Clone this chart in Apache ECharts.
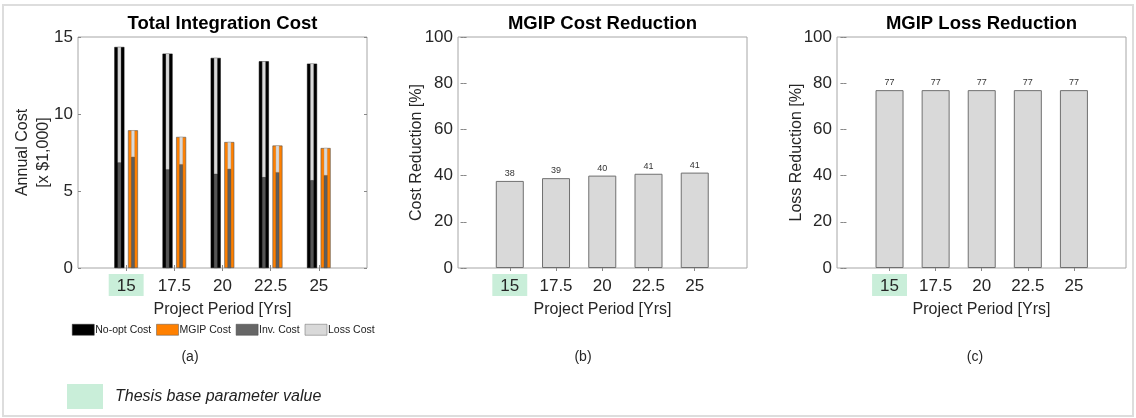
<!DOCTYPE html>
<html>
<head>
<meta charset="utf-8">
<style>
  html, body { margin: 0; padding: 0; background: #ffffff; }
  #chart { width: 1136px; height: 418px; }
</style>
<script src="https://cdn.jsdelivr.net/npm/echarts@6/dist/echarts.min.js"></script>
</head>
<body>
<div id="chart"></div>
<script>
// Project periods (years) shared by all three panels
const categories = ['15', '17.5', '20', '22.5', '25'];
const baseIndex = 0; // thesis base parameter value (15 yrs)

// Annual cost, x $1,000
const noOptCost = [14.35, 13.92, 13.64, 13.42, 13.27];
const mgipCost  = [8.94, 8.51, 8.18, 7.95, 7.79];
const noOptInv  = [6.84, 6.39, 6.10, 5.89, 5.69];
const noOptLoss = [7.51, 7.53, 7.54, 7.53, 7.58];
const mgipInv   = [7.21, 6.73, 6.43, 6.21, 6.02];
const mgipLoss  = [1.73, 1.78, 1.75, 1.74, 1.77];

// Reductions achieved by MGIP, percent
const costReduction = [37.7, 38.9, 40.0, 40.8, 41.3];
const lossReduction = [77.0, 77.0, 77.0, 77.0, 77.0];

const FONT = '"Liberation Sans", Arial, Helvetica, sans-serif';
const TXT = '#262626';
const BOX = '#a6a6a6';
const TICK = '#888888';
const HILITE = '#c9eed9';

// category positions 1..5 on a padded axis (one empty slot each side)
const pairs = vals => vals.map((v, i) => [i + 1, v]);
const paddedCats = [''].concat(categories, ['']);

const grids = [
  { left: 78,  top: 37, width: 289, height: 231 },
  { left: 458, top: 37, width: 289, height: 231 },
  { left: 837, top: 37, width: 289, height: 231 }
];
const xRanges = [null, [-0.12, 6.13], [-0.14, 6.13]];

// every period label sits in the same padded box; the base value gets a tint
const wrapLabel = (text, i) => (i === baseIndex ? '{hl|' : '{n|') + text + '}';
function catLabel(v) {
  const i = Math.round(v) - 1;
  return categories[i] === undefined ? '' : wrapLabel(categories[i], i);
}
const boxPad = [4, 8, 1, 8];
const labelStyle = {
  fontFamily: FONT, fontSize: 17, color: TXT, margin: 6,
  rich: {
    hl: { backgroundColor: HILITE, padding: boxPad, fontFamily: FONT, fontSize: 17, color: TXT },
    n:  { padding: boxPad, fontFamily: FONT, fontSize: 17, color: TXT }
  }
};
const xName = {
  name: 'Project Period [Yrs]', nameLocation: 'middle', nameGap: 34, nameMoveOverlap: false,
  nameTextStyle: { fontFamily: FONT, fontSize: 16, color: TXT }
};
const onTicks = i => i >= 1 && i <= categories.length;

// panel (a): padded category axes so the cost breakdown can be stacked
function catX(top) {
  return Object.assign({
    type: 'category', gridIndex: 0, data: paddedCats, boundaryGap: false,
    position: top ? 'top' : 'bottom',
    splitLine: { show: false }, axisLine: { show: false },
    axisTick: { show: true, inside: true, length: 3, interval: onTicks, lineStyle: { color: TICK } },
    axisLabel: top ? { show: false } : Object.assign({ interval: 0,
      formatter: (val, idx) => val === '' ? '' : wrapLabel(val, idx - 1) }, labelStyle)
  }, top ? {} : xName);
}
// panels (b), (c): value axes with ticks at the five periods
function valX(g, top) {
  return Object.assign({
    type: 'value', gridIndex: g, min: xRanges[g][0], max: xRanges[g][1],
    position: top ? 'top' : 'bottom',
    splitLine: { show: false }, axisLine: { show: false },
    axisTick: { show: true, inside: true, length: 3, customValues: [1, 2, 3, 4, 5],
                lineStyle: { color: TICK } },
    axisLabel: top ? { show: false } :
      Object.assign({ customValues: [1, 2, 3, 4, 5], formatter: catLabel }, labelStyle)
  }, top ? {} : xName);
}
function leftY(g, max, interval, name, gap) {
  return {
    type: 'value', gridIndex: g, min: 0, max: max, interval: interval,
    splitLine: { show: false }, axisLine: { show: false },
    axisTick: { show: true, inside: true, length: 3, lineStyle: { color: TICK } },
    axisLabel: { fontFamily: FONT, fontSize: 17, color: TXT, margin: 5 },
    name: name, nameLocation: 'middle', nameGap: gap, nameRotate: 90, nameMoveOverlap: false,
    nameTextStyle: { fontFamily: FONT, fontSize: 16, color: TXT, lineHeight: 21 }
  };
}
function rightY(g, max, interval) {
  return {
    type: 'value', gridIndex: g, position: 'right', min: 0, max: max, interval: interval,
    splitLine: { show: false }, axisLine: { show: false },
    axisTick: { show: true, inside: true, length: 3, lineStyle: { color: TICK } },
    axisLabel: { show: false }
  };
}

function titleAt(g, text) {
  return {
    text: text, left: grids[g].left + grids[g].width / 2, top: 14, textAlign: 'center', padding: 0,
    textStyle: { fontFamily: FONT, fontSize: 18.5, fontWeight: 'bold', color: '#000' }
  };
}

const reductionLabel = {
  show: true, position: 'top', distance: 3,
  fontFamily: FONT, fontSize: 9, color: '#333',
  formatter: p => Math.round(p.value[1])
};
const greyBar = { color: '#d9d9d9', borderColor: '#707070', borderWidth: 1 };

const option = {
  animation: false,
  backgroundColor: '#ffffff',
  title: [
    titleAt(0, 'Total Integration Cost'),
    titleAt(1, 'MGIP Cost Reduction'),
    titleAt(2, 'MGIP Loss Reduction')
  ],
  grid: grids.map(g => Object.assign({ show: true, borderColor: BOX, borderWidth: 1,
                                        backgroundColor: 'transparent' }, g)),
  xAxis: [catX(false), catX(true), valX(1, false), valX(1, true), valX(2, false), valX(2, true)],
  yAxis: [
    leftY(0, 15, 5, 'Annual Cost\n[x $1,000]', 24), rightY(0, 15, 5),
    leftY(1, 100, 20, 'Cost Reduction [%]', 31), rightY(1, 100, 20),
    leftY(2, 100, 20, 'Loss Reduction [%]', 30), rightY(2, 100, 20)
  ],
  legend: {
    left: 72, top: 324, itemWidth: 22, itemHeight: 11, itemGap: 5, padding: 0,
    selectedMode: false, icon: 'rect',
    textStyle: { fontFamily: FONT, fontSize: 10.5, color: '#222', padding: [0, 0, 0, -4] },
    data: [
      { name: 'No-opt Cost', itemStyle: { color: '#000000', borderColor: '#333', borderWidth: 0.5 } },
      { name: 'MGIP Cost', itemStyle: { color: '#ff8000', borderColor: '#555', borderWidth: 0.5 } },
      { name: 'Inv. Cost', itemStyle: { color: '#666666', borderColor: '#444', borderWidth: 0.5 } },
      { name: 'Loss Cost', itemStyle: { color: '#d9d9d9', borderColor: '#666', borderWidth: 0.5 } }
    ]
  },
  series: [
    // outer bars: total annual cost without optimisation and with MGIP
    { name: 'No-opt Cost', type: 'bar', xAxisIndex: 0, yAxisIndex: 0,
      barWidth: 10, barGap: '36%', data: pairs(noOptCost),
      itemStyle: { color: '#000000', borderColor: '#000', borderWidth: 0.5 } },
    { name: 'MGIP Cost', type: 'bar', xAxisIndex: 0, yAxisIndex: 0,
      barWidth: 10, barGap: '36%', data: pairs(mgipCost),
      itemStyle: { color: '#ff8000', borderColor: '#555', borderWidth: 0.6 } },
    // inner stripes: investment + loss breakdown of each total
    { name: 'Inv. Cost', type: 'bar', xAxisIndex: 1, yAxisIndex: 0, stack: 'noopt',
      barWidth: 3.5, barGap: '289%', data: pairs(noOptInv),
      itemStyle: { color: '#555555', borderColor: '#444', borderWidth: 0.3 } },
    { name: 'Inv. Cost', type: 'bar', xAxisIndex: 1, yAxisIndex: 0, stack: 'mgip',
      barWidth: 3.5, barGap: '289%', data: pairs(mgipInv),
      itemStyle: { color: '#5e5e5e', borderColor: '#444', borderWidth: 0.3 } },
    { name: 'Loss Cost', type: 'bar', xAxisIndex: 1, yAxisIndex: 0, stack: 'noopt',
      barWidth: 3.5, barGap: '289%', data: pairs(noOptLoss),
      itemStyle: { color: '#d9d9d9', borderColor: '#999', borderWidth: 0.3 } },
    { name: 'Loss Cost', type: 'bar', xAxisIndex: 1, yAxisIndex: 0, stack: 'mgip',
      barWidth: 3.5, barGap: '289%', data: pairs(mgipLoss),
      itemStyle: { color: '#d9d9d9', borderColor: '#999', borderWidth: 0.3 } },
    // panel (b)
    { name: 'Cost Reduction', type: 'bar', xAxisIndex: 2, yAxisIndex: 2,
      barWidth: 28, data: pairs(costReduction), itemStyle: greyBar, label: reductionLabel },
    // panel (c)
    { name: 'Loss Reduction', type: 'bar', xAxisIndex: 4, yAxisIndex: 4,
      barWidth: 28, data: pairs(lossReduction), itemStyle: greyBar, label: reductionLabel }
  ],
  graphic: [
    { type: 'rect', shape: { x: 3, y: 5, width: 1130, height: 411 },
      style: { fill: 'none', stroke: '#dddddd', lineWidth: 2 }, silent: true },
    { type: 'text', x: 190, y: 357, style: { text: '(a)', fontFamily: FONT, fontSize: 14,
      fill: TXT, align: 'center', verticalAlign: 'middle' } },
    { type: 'text', x: 583, y: 357, style: { text: '(b)', fontFamily: FONT, fontSize: 14,
      fill: TXT, align: 'center', verticalAlign: 'middle' } },
    { type: 'text', x: 975, y: 357, style: { text: '(c)', fontFamily: FONT, fontSize: 14,
      fill: TXT, align: 'center', verticalAlign: 'middle' } },
    { type: 'rect', shape: { x: 67, y: 384, width: 36, height: 25 },
      style: { fill: HILITE }, silent: true },
    { type: 'text', x: 115, y: 397, style: { text: 'Thesis base parameter value', fontFamily: FONT,
      fontSize: 16, fontStyle: 'italic', fill: '#222', verticalAlign: 'middle' } }
  ]
};

const chart = echarts.init(document.getElementById('chart'), null, { renderer: 'canvas' });
chart.setOption(option);
</script>
</body>
</html>
